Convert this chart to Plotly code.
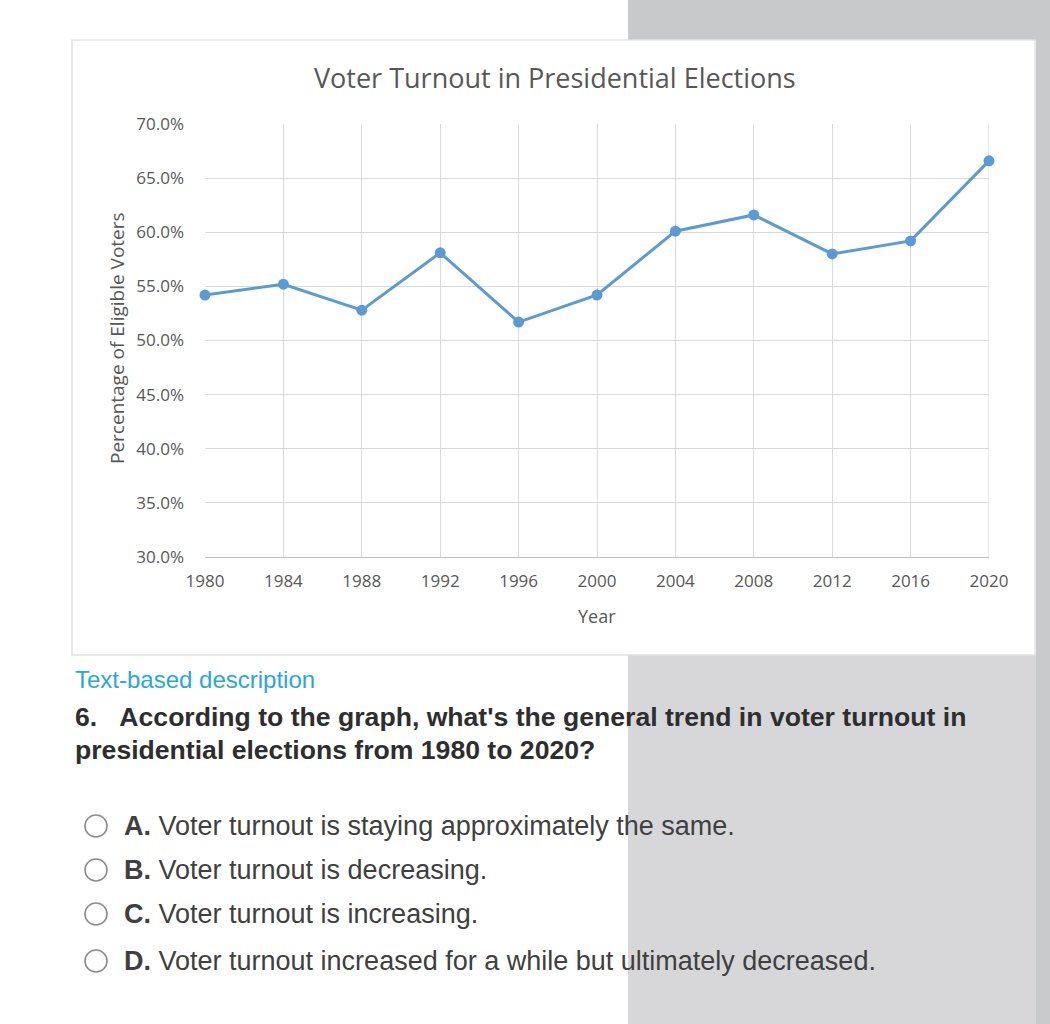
import plotly.graph_objects as go

# ---- data ----
years = [1980, 1984, 1988, 1992, 1996, 2000, 2004, 2008, 2012, 2016, 2020]
turnout = [54.2, 55.2, 52.8, 58.1, 51.7, 54.2, 60.1, 61.6, 58.0, 59.2, 66.6]
y_ticks = [30, 35, 40, 45, 50, 55, 60, 65, 70]
y_tick_labels = ["30.0%", "35.0%", "40.0%", "45.0%", "50.0%", "55.0%", "60.0%", "65.0%", "70.0%"]

chart_title = "Voter Turnout in Presidential Elections"
x_title = "Year"
y_title = "Percentage of Eligible Voters"
link_text = "Text-based description"
question_lines = ["6.&nbsp;&nbsp;&nbsp;According to the graph, what's the general trend in voter turnout in",
                  "presidential elections from 1980 to 2020?"]
option_letters = ["A.", "B.", "C.", "D."]
option_texts = ["Voter turnout is staying approximately the same.",
                "Voter turnout is decreasing.",
                "Voter turnout is increasing.",
                "Voter turnout increased for a while but ultimately decreased."]

# ---- page geometry (pixels) ----
W, H = 1050, 1024
PL, PR, PT, PB = 205, 989, 124, 557   # plot area edges


def px(x):
    return (x - PL) / (PR - PL)


def py(y):
    return (PB - y) / (PB - PT)


fig = go.Figure()
fig.add_trace(go.Scatter(
    x=years, y=turnout, mode="lines+markers",
    line=dict(color="#5b9bd5", width=3),
    marker=dict(color="#5b9bd5", size=11),
    cliponaxis=False, showlegend=False,
))

shapes = []
# grey backgrounds
shapes.append(dict(type="rect", xref="paper", yref="paper", x0=px(628), x1=px(1050), y0=py(0), y1=py(41),
                   fillcolor="#c8c9cb", line=dict(width=0), layer="below"))
shapes.append(dict(type="rect", xref="paper", yref="paper", x0=px(628), x1=px(1036), y0=py(655), y1=py(1024),
                   fillcolor="#d7d7d9", line=dict(width=0), layer="below"))
shapes.append(dict(type="rect", xref="paper", yref="paper", x0=px(1036), x1=px(1050), y0=py(40), y1=py(1024),
                   fillcolor="#c9cacc", line=dict(width=0), layer="below"))
# chart card
shapes.append(dict(type="rect", xref="paper", yref="paper", x0=px(72), x1=px(1035), y0=py(40), y1=py(655),
                   fillcolor="white", line=dict(color="#e2e2e2", width=1.5), layer="below"))

annotations = [
    dict(text=chart_title, x=px(555), y=py(77), xref="paper", yref="paper", showarrow=False,
         xanchor="center", yanchor="middle", font=dict(family="Open Sans", size=27, color="#575757")),
    dict(text=x_title, x=px(597), y=py(616), xref="paper", yref="paper", showarrow=False,
         xanchor="center", yanchor="middle", font=dict(family="Open Sans", size=18, color="#575757")),
    dict(text=y_title, x=px(117), y=py(338), xref="paper", yref="paper", showarrow=False, textangle=-90,
         xanchor="center", yanchor="middle", font=dict(family="Open Sans", size=19, color="#575757")),
    dict(text=link_text, x=px(73), y=py(679), xref="paper", yref="paper", showarrow=False,
         xanchor="left", yanchor="middle", font=dict(family="Liberation Sans", size=24, color="#2aa6de")),
]
q_y = [717, 750]
for line, yy in zip(question_lines, q_y):
    annotations.append(dict(text="<b>" + line + "</b>", x=px(73), y=py(yy), xref="paper", yref="paper",
                            showarrow=False, xanchor="left", yanchor="middle",
                            font=dict(family="Liberation Sans", size=26.6, color="#2e2e2e")))

opt_y = [826, 870, 914, 961]
r = 11
for letter, text, yy in zip(option_letters, option_texts, opt_y):
    shapes.append(dict(type="circle", xref="paper", yref="paper", x0=px(96 - r), x1=px(96 + r),
                       y0=py(yy + r), y1=py(yy - r), line=dict(color="#8c8c8c", width=1.6),
                       fillcolor="rgba(255,255,255,0)"))
    annotations.append(dict(text="<b>" + letter + "</b> " + text, x=px(122), y=py(yy), xref="paper", yref="paper",
                            showarrow=False, xanchor="left", yanchor="middle",
                            font=dict(family="Liberation Sans", size=27, color="#404040")))

fig.update_layout(
    width=W, height=H,
    margin=dict(l=PL, r=W - PR, t=PT, b=H - PB, autoexpand=False),
    paper_bgcolor="white", plot_bgcolor="rgba(0,0,0,0)",
    shapes=shapes, annotations=annotations,
    xaxis=dict(range=[1980, 2020], tickvals=years, showgrid=True, gridcolor="#d9d9d9", gridwidth=1,
               zeroline=False, showline=True, linecolor="#bfbfbf", linewidth=1,
               ticks="", ticklabelstandoff=9,
               tickfont=dict(family="Open Sans", size=17, color="#575757")),
    yaxis=dict(range=[30, 70], tickvals=y_ticks, ticktext=y_tick_labels, showgrid=True,
               gridcolor="#d9d9d9", gridwidth=1,
               zeroline=False, showline=False, ticks="", ticklabelstandoff=20,
               tickfont=dict(family="Open Sans", size=17, color="#575757")),
)
fig.add_shape(type="line", xref="x", yref="y", x0=2020, x1=2020, y0=30, y1=70,
              line=dict(color="#d9d9d9", width=1), layer="below")

fig.write_html("out.html")
